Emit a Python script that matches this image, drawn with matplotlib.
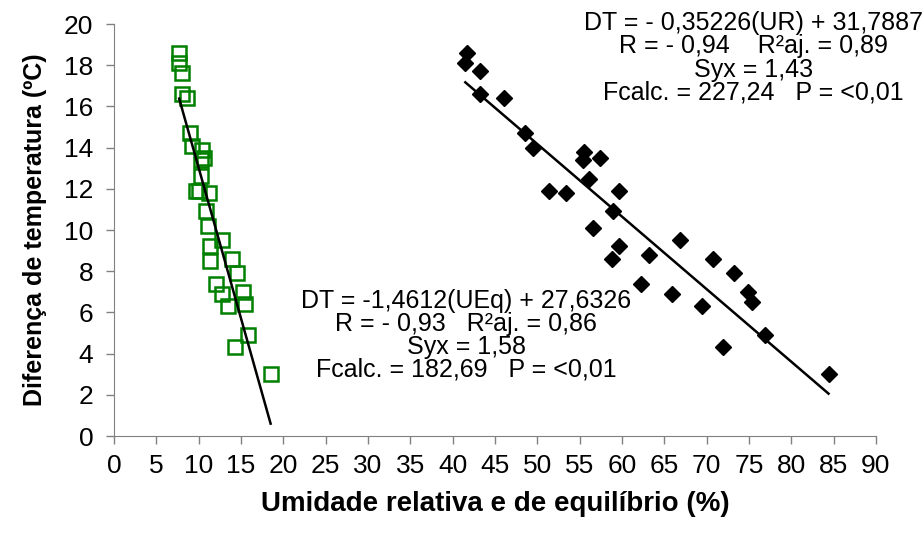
import matplotlib
matplotlib.use('Agg')
import matplotlib.pyplot as plt
import numpy as np

plt.rcParams['font.family'] = ['Liberation Sans', 'DejaVu Sans']

# relative humidity (UR) vs temperature difference
ur = [41.7, 41.5, 43.2, 43.2, 46.1, 48.6, 49.5, 55.5, 55.4, 57.4, 56.1, 51.4, 53.4, 59.6,
      58.9, 56.6, 66.9, 59.7, 58.8, 63.2, 62.2, 65.9, 69.4, 70.8, 73.2, 74.9, 75.4, 71.9,
      76.9, 84.4]
dt_ur = [18.6, 18.1, 17.7, 16.6, 16.4, 14.7, 14.0, 13.8, 13.4, 13.5, 12.5, 11.9, 11.8, 11.9,
         10.9, 10.1, 9.5, 9.2, 8.6, 8.8, 7.4, 6.9, 6.3, 8.6, 7.9, 7.0, 6.5, 4.3,
         4.9, 3.0]

# equilibrium moisture (UEq) vs temperature difference
ueq = [7.7, 7.7, 8.0, 8.0, 8.6, 9.0, 9.2, 10.4, 10.3, 10.6, 10.3, 9.7, 11.2, 10.0,
       10.9, 11.1, 12.7, 11.3, 11.3, 13.9, 12.0, 12.7, 13.5, 14.5, 15.2, 15.5, 14.3,
       15.8, 18.5]
dt_ueq = [18.6, 18.1, 17.6, 16.6, 16.4, 14.7, 14.1, 13.9, 13.4, 13.5, 12.6, 11.9, 11.8, 11.9,
          10.9, 10.2, 9.5, 9.2, 8.5, 8.6, 7.4, 6.9, 6.3, 7.9, 7.0, 6.4, 4.3,
          4.9, 3.0]

coef_ur = (-0.35226, 31.7887)
coef_ueq = (-1.4612, 27.6326)

txt_ur = ('DT = - 0,35226(UR) + 31,7887\n'
          'R = - 0,94    R\u00b2aj. = 0,89\n'
          'Syx = 1,43\n'
          'Fcalc. = 227,24   P = <0,01')
txt_ueq = ('DT = -1,4612(UEq) + 27,6326\n'
           'R = - 0,93   R\u00b2aj. = 0,86\n'
           'Syx = 1,58\n'
           'Fcalc. = 182,69   P = <0,01')

fig = plt.figure(figsize=(9.23, 5.34), dpi=100)
ax = fig.add_axes([0.1235, 0.1835, 0.8255, 0.7715])

ax.plot(ueq, dt_ueq, 's', ms=10, mfc='none', mec='#008000', mew=1.8, zorder=2)
ax.plot(ur, dt_ur, 'D', ms=8, mfc='black', mec='black', zorder=2)

for xs, (a, b) in [(ueq, coef_ueq), (ur, coef_ur)]:
    xx = np.array([min(xs), max(xs)])
    ax.plot(xx, a * xx + b, color='black', lw=1.8, zorder=3)

ax.text(75.5, 18.35, txt_ur, ha='center', va='center', fontsize=18,
        linespacing=0.95, multialignment='center')
ax.text(41.6, 4.9, txt_ueq, ha='center', va='center', fontsize=18,
        linespacing=0.95, multialignment='center')

ax.set_xlim(0, 90)
ax.set_ylim(0, 20)
ax.set_xticks(np.arange(0, 91, 5))
ax.set_yticks(np.arange(0, 21, 2))
for s in ['top', 'right']:
    ax.spines[s].set_visible(False)
for s in ['left', 'bottom']:
    ax.spines[s].set_color('#808080')
ax.tick_params(axis='both', labelsize=19, color='#808080', length=6, width=1)
ax.tick_params(axis='x', pad=7)
ax.tick_params(axis='y', pad=9)

ax.set_xlabel('Umidade relativa e de equilíbrio (%)', fontsize=20, fontweight='bold', labelpad=9)
ax.set_ylabel('Diferença de temperatura (ºC)', fontsize=18, fontweight='bold', labelpad=12)

fig.savefig('out.png', dpi=100)
